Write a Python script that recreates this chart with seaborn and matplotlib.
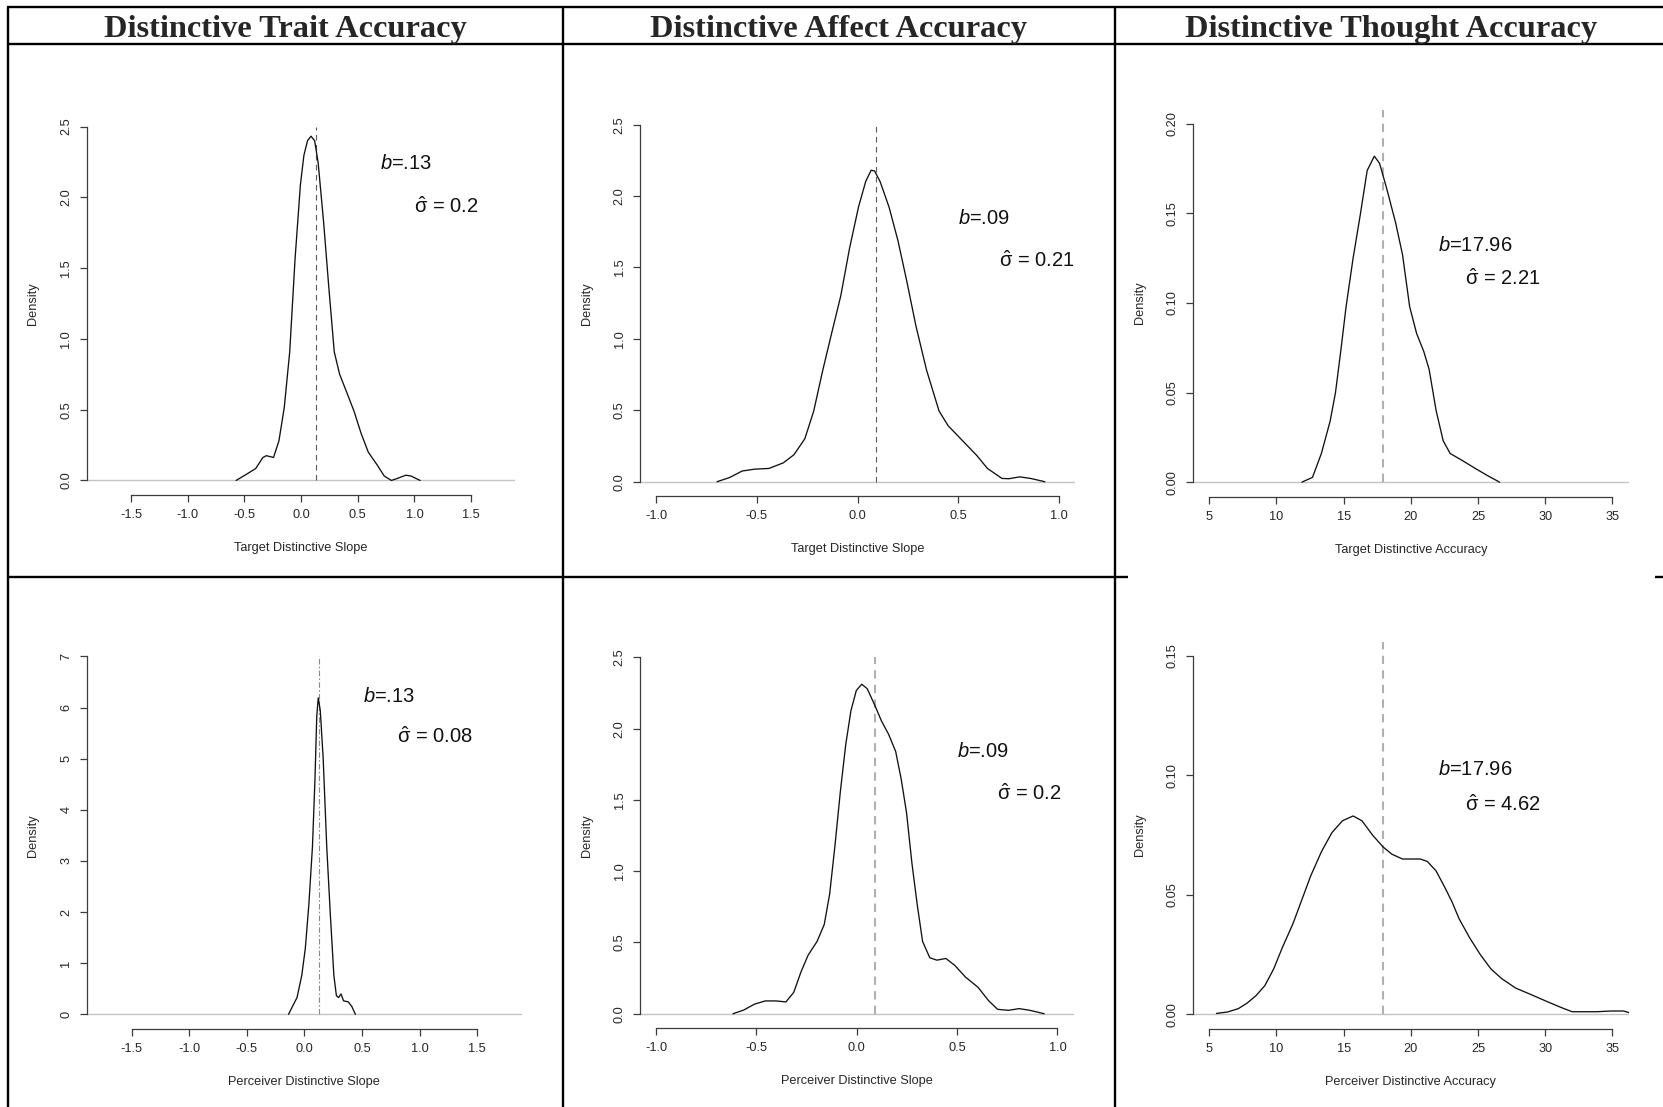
import matplotlib
matplotlib.use("Agg")
import matplotlib.pyplot as plt
from matplotlib.lines import Line2D
import pandas as pd
import seaborn as sns

# ---- data ----
headers = ["Distinctive Trait Accuracy", "Distinctive Affect Accuracy", "Distinctive Thought Accuracy"]

trait_target_x = [-0.573, -0.479, -0.40, -0.337, -0.306, -0.243, -0.195, -0.148, -0.10, -0.053, -0.006,
                  0.025, 0.057, 0.088, 0.12, 0.151, 0.199, 0.246, 0.293, 0.34, 0.404, 0.467, 0.53,
                  0.593, 0.671, 0.734, 0.797, 0.845, 0.924, 0.971, 1.05]
trait_target_y = [0.0, 0.045, 0.084, 0.162, 0.175, 0.162, 0.28, 0.516, 0.908, 1.563, 2.086,
                  2.296, 2.40, 2.432, 2.40, 2.243, 1.825, 1.353, 0.908, 0.751, 0.62, 0.49, 0.332,
                  0.2, 0.11, 0.031, 0.0, 0.013, 0.037, 0.031, 0.0]

affect_target_x = [-0.698, -0.636, -0.573, -0.511, -0.44, -0.369, -0.316, -0.262, -0.218, -0.173, -0.129,
                   -0.084, -0.04, 0.004, 0.04, 0.067, 0.084, 0.111, 0.156, 0.2, 0.244, 0.289, 0.342,
                   0.404, 0.449, 0.52, 0.591, 0.644, 0.716, 0.751, 0.804, 0.858, 0.929]
affect_target_y = [0.0, 0.029, 0.075, 0.088, 0.093, 0.132, 0.189, 0.301, 0.495, 0.781, 1.04,
                   1.30, 1.636, 1.922, 2.103, 2.181, 2.176, 2.103, 1.922, 1.688, 1.403, 1.092, 0.781,
                   0.495, 0.392, 0.288, 0.184, 0.093, 0.023, 0.021, 0.034, 0.023, 0.0]

thought_target_x = [11.89, 12.68, 13.34, 13.99, 14.39, 14.78, 15.18, 15.70, 16.23, 16.75, 17.28, 17.67,
                    18.2, 18.86, 19.38, 19.91, 20.43, 20.96, 21.36, 21.88, 22.41, 22.93, 23.85,
                    24.9, 25.7, 26.61]
thought_target_y = [0.0, 0.0027, 0.016, 0.034, 0.050, 0.073, 0.098, 0.125, 0.149, 0.174, 0.182, 0.178,
                    0.164, 0.145, 0.127, 0.098, 0.083, 0.073, 0.063, 0.040, 0.023, 0.016, 0.012,
                    0.0072, 0.0037, 0.0]

trait_perceiver_x = [-0.138, -0.101, -0.064, -0.023, 0.008, 0.039, 0.07, 0.092, 0.107, 0.12, 0.138,
                     0.163, 0.194, 0.225, 0.256, 0.278, 0.297, 0.318, 0.34, 0.381, 0.412, 0.443]
trait_perceiver_y = [0.0, 0.166, 0.33, 0.76, 1.29, 2.16, 3.28, 4.61, 5.81, 6.19, 5.94,
                     5.01, 3.28, 1.96, 0.76, 0.365, 0.33, 0.40, 0.265, 0.245, 0.153, 0.0]

affect_perceiver_x = [-0.617, -0.563, -0.51, -0.456, -0.403, -0.353, -0.314, -0.278, -0.242, -0.198,
                      -0.162, -0.135, -0.109, -0.082, -0.055, -0.029, -0.002, 0.025, 0.052, 0.087,
                      0.123, 0.159, 0.194, 0.221, 0.248, 0.275, 0.301, 0.328, 0.364, 0.399, 0.444,
                      0.488, 0.542, 0.604, 0.658, 0.702, 0.756, 0.809, 0.863, 0.934]
affect_perceiver_y = [0.0, 0.026, 0.067, 0.09, 0.09, 0.083, 0.15, 0.293, 0.412, 0.507,
                      0.626, 0.84, 1.174, 1.555, 1.888, 2.126, 2.269, 2.312, 2.281, 2.174,
                      2.055, 1.96, 1.84, 1.65, 1.412, 1.055, 0.769, 0.507, 0.393, 0.376, 0.388,
                      0.34, 0.257, 0.186, 0.09, 0.031, 0.024, 0.036, 0.024, 0.0]

thought_perceiver_x = [5.53, 6.37, 7.16, 7.81, 8.47, 9.13, 9.79, 10.44, 11.23, 11.89, 12.55, 13.34,
                       14.12, 14.91, 15.70, 16.36, 17.15, 17.94, 18.59, 19.38, 20.04, 20.70, 21.22,
                       21.88, 22.54, 23.07, 23.59, 24.38, 25.17, 25.96, 26.75, 27.8, 28.85, 30.16,
                       31.22, 32.0, 33.84, 34.9, 35.82, 36.26]
thought_perceiver_y = [0.0004, 0.001, 0.0024, 0.0047, 0.0078, 0.012, 0.019, 0.028, 0.038, 0.048, 0.058,
                       0.068, 0.076, 0.081, 0.083, 0.081, 0.075, 0.070, 0.067, 0.065, 0.065, 0.065,
                       0.064, 0.060, 0.053, 0.047, 0.040, 0.032, 0.025, 0.019, 0.015, 0.011, 0.0085,
                       0.0053, 0.0028, 0.0011, 0.0011, 0.0014, 0.0014, 0.0007]

b_labels = [".13", ".09", "17.96", ".13", ".09", "17.96"]
b_values = [0.13, 0.09, 17.96, 0.13, 0.09, 17.96]
sigma_labels = ["0.2", "0.21", "2.21", "0.08", "0.2", "4.62"]

x_labels = ["Target Distinctive Slope", "Target Distinctive Slope", "Target Distinctive Accuracy",
            "Perceiver Distinctive Slope", "Perceiver Distinctive Slope", "Perceiver Distinctive Accuracy"]

slope_wide_ticks = [-1.5, -1.0, -0.5, 0.0, 0.5, 1.0, 1.5]
slope_ticks = [-1.0, -0.5, 0.0, 0.5, 1.0]
accuracy_ticks = [5, 10, 15, 20, 25, 30, 35]
dens_ticks_25 = [0.0, 0.5, 1.0, 1.5, 2.0, 2.5]
dens_ticks_7 = [0, 1, 2, 3, 4, 5, 6, 7]
dens_ticks_020 = [0.00, 0.05, 0.10, 0.15, 0.20]
dens_ticks_015 = [0.00, 0.05, 0.10, 0.15]

# ---- style ----
sns.set_style("white")
plt.rcParams["font.family"] = ["Liberation Sans", "DejaVu Sans"]
plt.rcParams["mathtext.fontset"] = "custom"
plt.rcParams["mathtext.rm"] = "Liberation Sans"
plt.rcParams["mathtext.it"] = "Liberation Sans:italic"

W, H = 1663, 1107
fig = plt.figure(figsize=(W / 100, H / 100), dpi=100)

AX_COL = "#3c3c3c"
TXT_COL = "#262626"

dark_dash = dict(color="#5a5a5a", lw=0.8, linestyle=(0, (5, 4)))
light_dash = dict(color="#b0b0b0", lw=1.5, linestyle=(0, (4, 3)))
dotdash = dict(color="#8a8a8a", lw=0.8, linestyle=(0, (5, 2, 1.5, 2)))

# panel layout: pixel box (left, right, top, bottom), limits, ticks, label spots
panels = [
    dict(box=(86.8, 515.3, 112.4, 494.6), x=trait_target_x, y=trait_target_y,
         xlim=(-1.89, 1.89), ylim=(-0.1, 2.6), xt=slope_wide_ticks, yt=dens_ticks_25, yfmt="{:.1f}",
         vtop=2.5, dash=dark_dash, bpos=(0.70, 2.20), spos=(1.00, 1.89)),
    dict(box=(640, 1075.3, 110.4, 496.0), x=affect_target_x, y=affect_target_y,
         xlim=(-1.08, 1.08), ylim=(-0.1, 2.6), xt=slope_ticks, yt=dens_ticks_25, yfmt="{:.1f}",
         vtop=2.5, dash=dark_dash, bpos=(0.50, 1.805), spos=(0.70, 1.50)),
    dict(box=(1193.2, 1628.5, 109.6, 496.5), x=thought_target_x, y=thought_target_y,
         xlim=(3.8, 36.2), ylim=(-0.008, 0.208), xt=accuracy_ticks, yt=dens_ticks_020, yfmt="{:.2f}",
         vtop=0.208, dash=light_dash, bpos=(22.0, 0.129), spos=(24.0, 0.110)),
    dict(box=(86.8, 522.0, 642.1, 1028.7), x=trait_perceiver_x, y=trait_perceiver_y,
         xlim=(-1.89, 1.89), ylim=(-0.28, 7.28), xt=slope_wide_ticks, yt=dens_ticks_7, yfmt="{:d}",
         vtop=7.0, dash=dotdash, bpos=(0.505, 6.10), spos=(0.80, 5.31)),
    dict(box=(640, 1073.5, 643.2, 1028.0), x=affect_perceiver_x, y=affect_perceiver_y,
         xlim=(-1.08, 1.08), ylim=(-0.1, 2.6), xt=slope_ticks, yt=dens_ticks_25, yfmt="{:.1f}",
         vtop=2.5, dash=light_dash, bpos=(0.50, 1.805), spos=(0.70, 1.50)),
    dict(box=(1193.2, 1628.5, 641.5, 1028.7), x=thought_perceiver_x, y=thought_perceiver_y,
         xlim=(3.8, 36.2), ylim=(-0.006, 0.156), xt=accuracy_ticks, yt=dens_ticks_015, yfmt="{:.2f}",
         vtop=0.156, dash=light_dash, bpos=(22.0, 0.100), spos=(24.0, 0.085)),
]

for i, p in enumerate(panels):
    left, right, top, bottom = p["box"]
    wpx, hpx = right - left, bottom - top
    ax = fig.add_axes([left / W, 1 - bottom / H, wpx / W, hpx / H])
    ax.patch.set_alpha(0)

    ax.axhline(0, color="#c4c4c4", lw=1.0, zorder=1)
    df = pd.DataFrame({"x": p["x"], "density": p["y"]})
    sns.lineplot(data=df, x="x", y="density", ax=ax, color="#111111", lw=0.95, zorder=3)
    ax.plot([b_values[i], b_values[i]], [0, p["vtop"]], zorder=2, **p["dash"])

    ax.set_xlim(*p["xlim"])
    ax.set_ylim(*p["ylim"])
    ax.set_xticks(p["xt"])
    ax.set_xticklabels([("{:.1f}".format(v) if isinstance(v, float) else str(v)) for v in p["xt"]])
    ax.set_yticks(p["yt"])
    ax.set_yticklabels([p["yfmt"].format(v) for v in p["yt"]], rotation=90, va="center")

    for s in ["top", "right"]:
        ax.spines[s].set_visible(False)
    ax.spines["left"].set_bounds(p["yt"][0], p["yt"][-1])
    ax.spines["bottom"].set_bounds(p["xt"][0], p["xt"][-1])
    for s in ["left", "bottom"]:
        ax.spines[s].set_color(AX_COL)
        ax.spines[s].set_linewidth(0.9)
    ax.tick_params(bottom=True, left=True, direction="out", length=5.3, width=0.9, color=AX_COL,
                   labelsize=9.2, labelcolor=TXT_COL, pad=5)

    ax.set_xlabel(x_labels[i], fontsize=9.2, color=TXT_COL)
    ax.set_ylabel("Density", fontsize=9.2, color=TXT_COL)
    ax.xaxis.set_label_coords(0.5, -47.0 / hpx)
    ax.yaxis.set_label_coords(-47.3 / wpx, 0.5)

    ax.text(p["bpos"][0], p["bpos"][1], r"$b$=" + b_labels[i], fontsize=14.5,
            ha="left", va="baseline", color="#111111")
    ax.text(p["spos"][0], p["spos"][1], r"$\hat{\mathrm{\sigma}}$ = " + sigma_labels[i], fontsize=14.5,
            ha="left", va="baseline", color="#111111")

# ---- table frame and headers ----
def frame_line(x0, x1, y0, y1):
    fig.add_artist(Line2D([x0 / W, x1 / W], [1 - y0 / H, 1 - y1 / H],
                          color="black", lw=1.7, solid_capstyle="butt"))

frame_line(7.4, W, 7.4, 7.4)
frame_line(7.4, W, 44.4, 44.4)
frame_line(7.4, 1128, 577, 577)
frame_line(1655, W, 577, 577)
frame_line(8, 8, 7.4, H)
frame_line(562.7, 562.7, 7.4, H)
frame_line(1115, 1115, 7.4, H)

for cx, title in zip([285, 839, 1391], headers):
    fig.text(cx / W, 1 - 37 / H, title, ha="center", va="baseline",
             fontsize=23.3, fontweight="bold", family=["Liberation Serif", "DejaVu Serif"])

fig.savefig("out.png", dpi=100)
